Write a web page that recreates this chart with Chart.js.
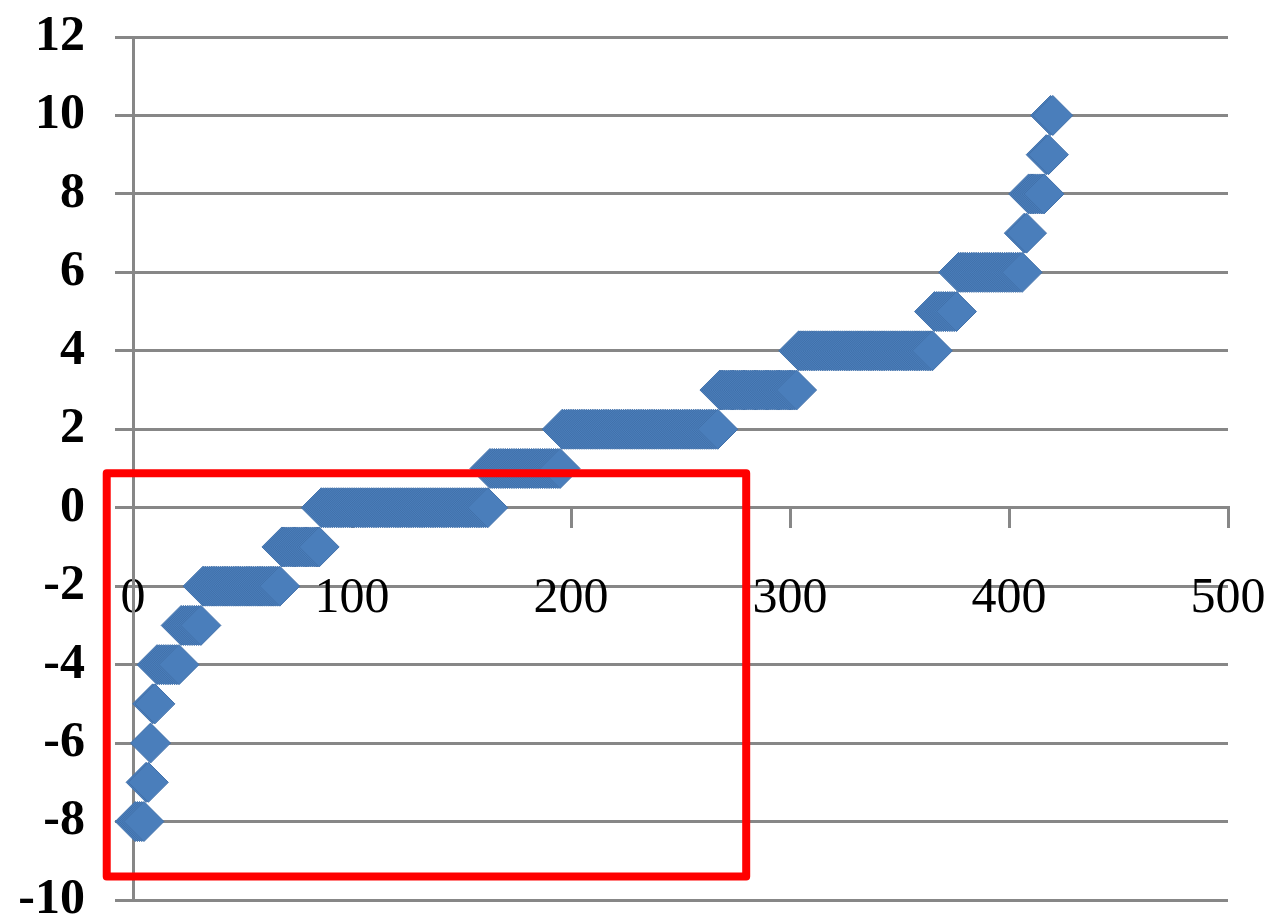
<!DOCTYPE html>
<html>
<head>
<meta charset="utf-8">
<title>Sorted values</title>
<script src="https://cdn.jsdelivr.net/npm/chart.js@4/dist/chart.umd.min.js"></script>
<style>
  html, body { margin: 0; padding: 0; background: #ffffff; }
  #wrap { width: 1272px; height: 922px; }
</style>
</head>
<body>
<div id="wrap"><canvas id="chart" width="1272" height="922"></canvas></div>
<script>
// Sorted sample: each value level covers a run of consecutive indices
const levels   = [-8, -7, -6, -5, -4, -3, -2, -1, 0, 1, 2, 3, 4, 5, 6, 7, 8, 9, 10];
const runStart = [1, 6, 8, 9, 11, 22, 32, 68, 86, 163, 196, 268, 304, 366, 377, 407, 409, 417, 419];
const runEnd   = [5, 7, 8, 10, 21, 31, 67, 85, 162, 195, 267, 303, 365, 376, 406, 408, 416, 418, 420];

const xTicks = [0, 100, 200, 300, 400, 500];
const yTicks = [-10, -8, -6, -4, -2, 0, 2, 4, 6, 8, 10, 12];

// red highlight frame, in data units
const frameX = [-12, 280];
const frameY = [-9.4, 0.88];

// build the points: index along x, value along y
const points = [];
levels.forEach((v, i) => {
  for (let k = runStart[i]; k <= runEnd[i]; k++) {
    points.push({ x: k, y: v });
  }
});

const gridGrey = '#878787';
const labelFont = { family: '"Liberation Serif", "DejaVu Serif", serif', size: 50 };

// Draws the red frame over the points
const highlightFrame = {
  id: 'highlightFrame',
  afterDatasetsDraw(chart) {
    const { ctx, scales } = chart;
    const left = scales.x.getPixelForValue(frameX[0]);
    const right = scales.x.getPixelForValue(frameX[1]);
    const top = scales.y.getPixelForValue(frameY[1]);
    const bottom = scales.y.getPixelForValue(frameY[0]);
    ctx.save();
    ctx.strokeStyle = '#ff0000';
    ctx.lineWidth = 8;
    ctx.lineJoin = 'round';
    ctx.strokeRect(left, top, right - left, bottom - top);
    ctx.restore();
  }
};

new Chart(document.getElementById('chart'), {
  type: 'scatter',
  data: {
    datasets: [{
      data: points,
      pointStyle: 'rectRot',
      pointRadius: 20,
      pointHoverRadius: 20,
      backgroundColor: '#4a7ebb',
      borderColor: '#4170a9',
      borderWidth: 1,
      clip: false
    }]
  },
  options: {
    responsive: false,
    animation: false,
    layout: {
      padding: { top: 37, right: 44, bottom: 22, left: 0 }
    },
    plugins: {
      legend: { display: false },
      tooltip: { enabled: false }
    },
    scales: {
      x: {
        type: 'linear',
        position: { y: 0 },
        min: xTicks[0],
        max: xTicks[xTicks.length - 1],
        afterBuildTicks: scale => { scale.ticks = xTicks.map(v => ({ value: v })); },
        afterFit: scale => {
          scale.height = 0;
          scale.paddingLeft = 0;
          scale.paddingRight = 0;
        },
        ticks: {
          color: '#000000',
          font: labelFont,
          padding: 42,
          maxRotation: 0
        },
        grid: {
          drawOnChartArea: false,
          color: gridGrey,
          lineWidth: 3,
          tickLength: 19
        },
        border: { color: gridGrey, width: 3 }
      },
      y: {
        min: yTicks[0],
        max: yTicks[yTicks.length - 1],
        afterBuildTicks: scale => { scale.ticks = yTicks.map(v => ({ value: v })); },
        afterFit: scale => {
          scale.width = 133;
          scale.paddingTop = 0;
          scale.paddingBottom = 0;
        },
        ticks: {
          color: '#000000',
          font: Object.assign({}, labelFont, { weight: 'bold' }),
          padding: 30
        },
        grid: {
          color: gridGrey,
          lineWidth: 3,
          tickLength: 18
        },
        border: { color: gridGrey, width: 3 }
      }
    }
  },
  plugins: [highlightFrame]
});
</script>
</body>
</html>
